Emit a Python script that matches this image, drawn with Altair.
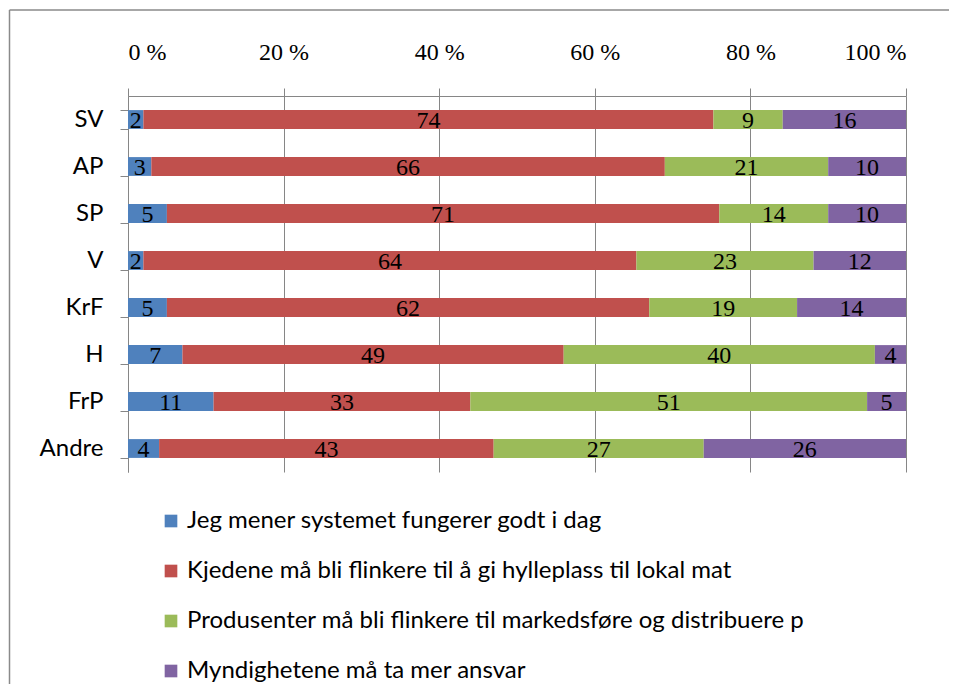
import altair as alt
import pandas as pd

parties = ["SV", "AP", "SP", "V", "KrF", "H", "FrP", "Andre"]
series = [
    "Jeg mener systemet fungerer godt i dag",
    "Kjedene må bli flinkere til å gi hylleplass til lokal mat",
    "Produsenter må bli flinkere til markedsføre og distribuere p",
    "Myndighetene må ta mer ansvar",
]
colors = ["#4F81BD", "#C0504D", "#9BBB59", "#8064A2"]
s1 = [2, 3, 5, 2, 5, 7, 11, 4]
s2 = [74, 66, 71, 64, 62, 49, 33, 43]
s3 = [9, 21, 14, 23, 19, 40, 51, 27]
s4 = [16, 10, 10, 12, 14, 4, 5, 26]
tick_values = [0, 0.2, 0.4, 0.6, 0.8, 1.0]

rows = []
for si, (name, vals) in enumerate(zip(series, [s1, s2, s3, s4])):
    for p, v in zip(parties, vals):
        rows.append({"party": p, "series": name, "order": si, "value": v})
df = pd.DataFrame(rows)

grid_col = "#868686"
serif = "Liberation Serif"
sans = "Lato"

base = alt.Chart(df).transform_stack(
    stack="value", groupby=["party"], as_=["v0", "v1"], offset="normalize",
    sort=[alt.SortField("order", order="ascending")],
)

y_enc = alt.Y(
    "party:N", sort=parties, title=None,
    scale=alt.Scale(paddingInner=0.6, paddingOuter=0.3),
    axis=alt.Axis(tickBand="extent", tickSize=8, tickColor=grid_col, domainColor=grid_col,
                  labelFont=sans, labelFontSize=24, labelColor="#000000",
                  labelPadding=17, grid=False),
)

bars = base.mark_bar().encode(
    x=alt.X("v0:Q", title=None, scale=alt.Scale(domain=[0, 1], nice=False),
            axis=alt.Axis(orient="top", values=tick_values,
                          labelExpr="format(datum.value*100, 'd') + ' %'",
                          grid=True, gridColor=grid_col, tickColor=grid_col, domainColor=grid_col,
                          tickSize=8, labelFont=serif, labelFontSize=24, labelColor="#000000",
                          labelPadding=24)),
    x2="v1:Q",
    y=y_enc,
    color=alt.Color("series:N", scale=alt.Scale(domain=series, range=colors),
                    legend=alt.Legend(title=None, orient="none", legendX=31, legendY=413,
                                      direction="vertical", symbolType="square", symbolSize=160,
                                      symbolStrokeWidth=0, labelFont=sans, labelFontSize=24,
                                      labelColor="#000000", rowPadding=26, labelLimit=900,
                                      labelOffset=4)),
)

labels = base.transform_calculate(mid="(datum.v0 + datum.v1) / 2").mark_text(
    font=serif, fontSize=24, color="#000000", baseline="middle", align="center", dy=1
).encode(
    x="mid:Q",
    y=alt.Y("party:N", sort=parties),
    text="value:Q",
)

frame_df = pd.DataFrame({"frame": [0]})
frame_left = alt.Chart(frame_df).mark_rule(color="#8a8a8a", strokeWidth=1.5).encode(
    x=alt.value(-118.5), y=alt.value(-86), y2=alt.value(700)
)
frame_top = alt.Chart(frame_df).mark_rule(color="#8a8a8a", strokeWidth=1.5).encode(
    x=alt.value(-118.5), x2=alt.value(900), y=alt.value(-86)
)

chart = alt.layer(frame_left, frame_top, bars, labels).properties(
    width=778, height=376,
    autosize=alt.AutoSizeParams(type="none"),
    padding={"left": 120, "top": 88, "right": 43, "bottom": 212},
).configure_view(stroke=None)

chart.save("out.html", embed_options={"renderer": "svg", "actions": False})
